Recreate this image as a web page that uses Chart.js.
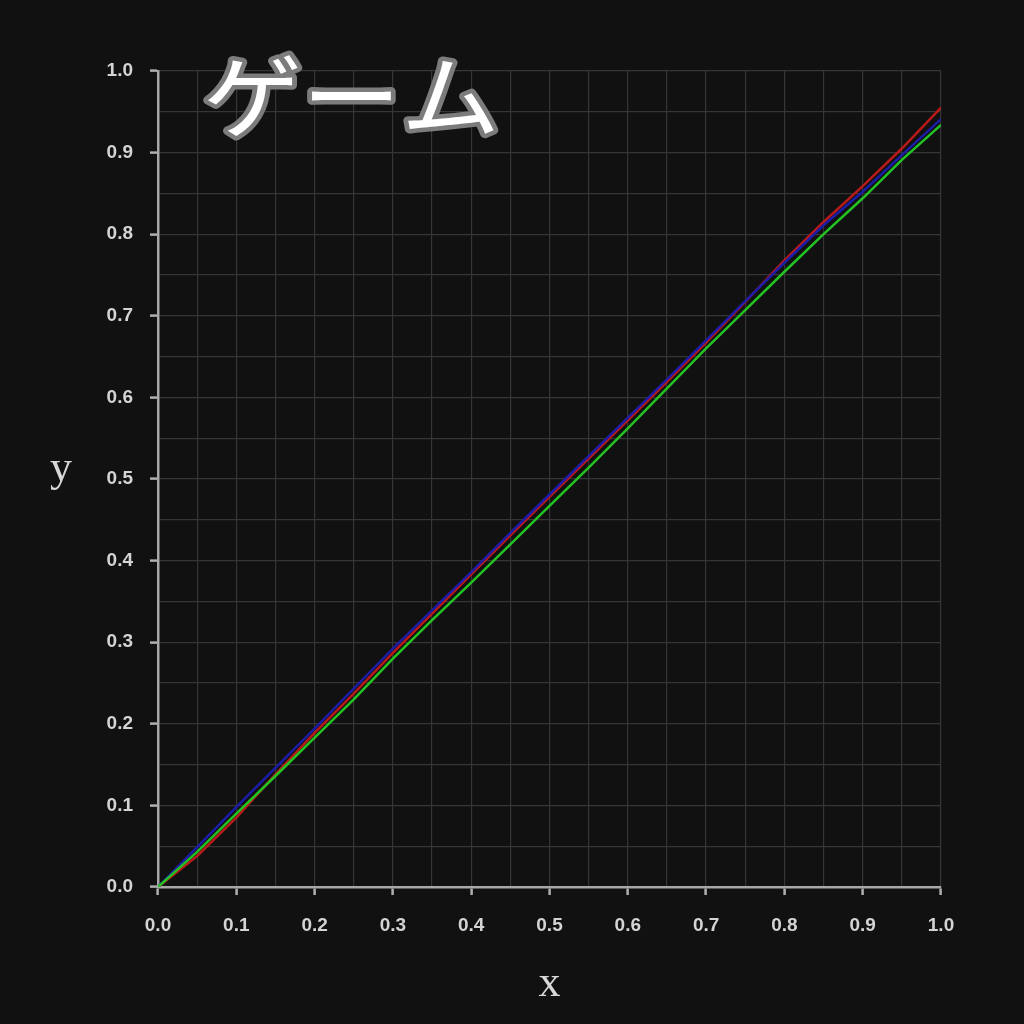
<!DOCTYPE html>
<html>
<head>
<meta charset="utf-8">
<script src="https://cdn.jsdelivr.net/npm/chart.js@4/dist/chart.umd.min.js"></script>
<style>
  html, body { margin: 0; padding: 0; background: #111111; }
  #wrap { width: 1024px; height: 1024px; }
</style>
</head>
<body>
<div id="wrap"><canvas id="c" width="1024" height="1024"></canvas></div>
<script>
const xValues = [0, 0.05, 0.1, 0.15, 0.2, 0.25, 0.3, 0.35, 0.4, 0.45, 0.5, 0.55, 0.6, 0.65, 0.7, 0.75, 0.8, 0.85, 0.9, 0.95, 1.0];
const redValues   = [0, 0.038, 0.085, 0.138, 0.189, 0.237, 0.287, 0.335, 0.383, 0.431, 0.478, 0.525, 0.572, 0.619, 0.667, 0.717, 0.768, 0.815, 0.859, 0.905, 0.955];
const blueValues  = [0, 0.049, 0.098, 0.146, 0.194, 0.243, 0.292, 0.339, 0.386, 0.434, 0.481, 0.528, 0.575, 0.622, 0.670, 0.718, 0.765, 0.811, 0.852, 0.897, 0.941];
const greenValues = [0, 0.043, 0.090, 0.136, 0.183, 0.230, 0.280, 0.327, 0.373, 0.420, 0.467, 0.514, 0.562, 0.611, 0.660, 0.707, 0.754, 0.800, 0.844, 0.891, 0.934];
const titleText = "ゲーム";
const xTitle = "x";
const yTitle = "y";

const pts = arr => xValues.map((x, i) => ({ x: x, y: arr[i] }));

const isMajor = v => Math.abs(Math.round(v * 10) - v * 10) < 1e-6;

const bgPlugin = {
  id: 'bg',
  beforeDraw(chart) {
    const ctx = chart.ctx;
    ctx.save();
    ctx.fillStyle = '#111111';
    ctx.fillRect(0, 0, chart.width, chart.height);
    ctx.restore();
  },
  afterDraw(chart) {
    const ctx = chart.ctx;
    const ca = chart.chartArea;
    ctx.save();
    // axis titles (upright)
    ctx.fillStyle = '#d8d8d8';
    ctx.font = '44px "Liberation Serif", "DejaVu Serif", serif';
    ctx.textAlign = 'center';
    ctx.textBaseline = 'middle';
    ctx.fillText(yTitle, 61, (ca.top + ca.bottom) / 2 - 10);
    ctx.fillText(xTitle, (ca.left + ca.right) / 2, 984);
    ctx.restore();
    // big title
    ctx.save();
    ctx.translate(203, 96);
    ctx.scale(1.1, 1);
    ctx.font = '400 90px "Noto Sans CJK JP", sans-serif';
    ctx.textAlign = 'left';
    ctx.textBaseline = 'middle';
    ctx.lineJoin = 'round';
    ctx.lineCap = 'round';
    ctx.lineWidth = 9;
    ctx.strokeStyle = '#7c7c7c';
    ctx.strokeText(titleText, 0, 0);
    ctx.fillStyle = '#ffffff';
    ctx.fillText(titleText, 0, 0);
    ctx.restore();
  }
};

const tickFont = { family: '"Liberation Sans", Arial, sans-serif', size: 19, weight: 'bold' };

new Chart(document.getElementById('c'), {
  type: 'scatter',
  data: {
    datasets: [
      { label: 'green', data: pts(greenValues), borderColor: '#22c322', borderWidth: 2.5, showLine: true, pointRadius: 0, tension: 0, fill: false },
      { label: 'blue',  data: pts(blueValues),  borderColor: '#1c1ca6', borderWidth: 2.5, showLine: true, pointRadius: 0, tension: 0, fill: false },
      { label: 'red',   data: pts(redValues),   borderColor: '#b81a1a', borderWidth: 2.5, showLine: true, pointRadius: 0, tension: 0, fill: false }
    ]
  },
  options: {
    responsive: false,
    animation: false,
    devicePixelRatio: 1,
    layout: { padding: { top: 71, right: 83, left: 0, bottom: 0 } },
    plugins: { legend: { display: false }, tooltip: { enabled: false }, title: { display: false } },
    scales: {
      x: {
        type: 'linear', min: 0, max: 1,
        afterFit(scale) { scale.height = 137; },
        ticks: {
          stepSize: 0.05, color: '#d4d4d4', font: tickFont, padding: 19, maxRotation: 0, autoSkip: false,
          callback: v => isMajor(v) ? v.toFixed(1) : ''
        },
        grid: {
          color: '#363636', lineWidth: 1.2, tickLength: 8, tickWidth: 2.5,
          tickColor: ctx => (ctx.tick && isMajor(ctx.tick.value)) ? '#b0b0b0' : 'rgba(0,0,0,0)'
        },
        border: { color: '#a8a8a8', width: 2.5 }
      },
      y: {
        type: 'linear', min: 0, max: 1,
        afterFit(scale) { scale.width = 158; },
        ticks: {
          stepSize: 0.05, color: '#d4d4d4', font: tickFont, padding: 17, autoSkip: false,
          callback: v => isMajor(v) ? v.toFixed(1) : ''
        },
        grid: {
          color: '#363636', lineWidth: 1.2, tickLength: 8, tickWidth: 2.5,
          tickColor: ctx => (ctx.tick && isMajor(ctx.tick.value)) ? '#b0b0b0' : 'rgba(0,0,0,0)'
        },
        border: { color: '#a8a8a8', width: 2.5 }
      }
    }
  },
  plugins: [bgPlugin]
});
</script>
</body>
</html>
